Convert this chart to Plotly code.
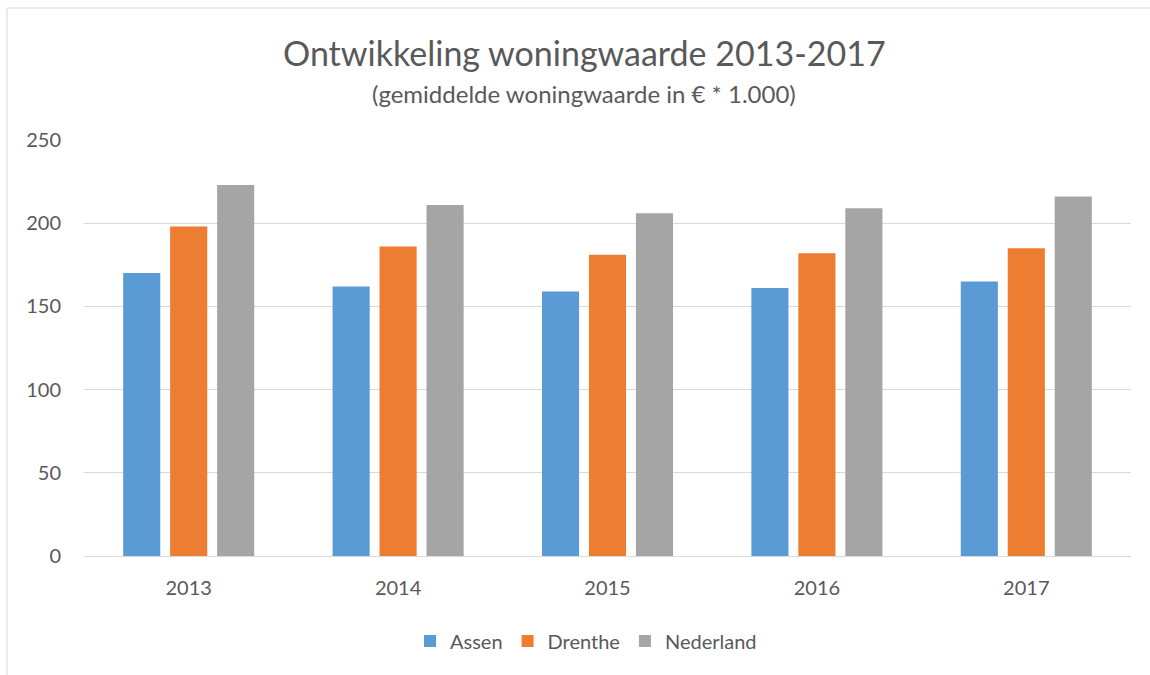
import plotly.graph_objects as go

years = ["2013", "2014", "2015", "2016", "2017"]
assen = [170, 162, 159, 161, 165]
drenthe = [198, 186, 181, 182, 185]
nederland = [223, 211, 206, 209, 216]
series_names = ["Assen", "Drenthe", "Nederland"]
colors = ["#5B9BD5", "#ED7D31", "#A5A5A5"]

FONT = "Lato, Open Sans, sans-serif"

fig = go.Figure()
for name, vals, col in zip(series_names, [assen, drenthe, nederland], colors):
    fig.add_trace(go.Bar(name=name, x=years, y=vals, marker=dict(color=col, line=dict(width=0))))

W, H = 1150, 675
L, R, T, B = 84, 19, 140, 119
pw = W - L - R
ph = H - T - B

fig.update_layout(
    width=W, height=H,
    margin=dict(l=L, r=R, t=T, b=B),
    paper_bgcolor="white", plot_bgcolor="white",
    barmode="group", bargap=0.327, bargroupgap=0.21,
    font=dict(family=FONT, color="#595959"),
    showlegend=True,
    legend=dict(orientation="h", x=(586 - L) / pw, xanchor="center", y=-(641 - (T + ph)) / ph, yanchor="middle",
                font=dict(size=20, color="#595959"), traceorder="normal", itemwidth=30),
    annotations=[
        dict(text="Ontwikkeling woningwaarde 2013-2017", x=(584 - L) / pw, xref="paper", y=1 + (T - 52) / ph, yref="paper",
             xanchor="center", yanchor="middle", showarrow=False, font=dict(size=34, color="#595959", family=FONT)),
        dict(text="(gemiddelde woningwaarde in € * 1.000)", x=(584 - L) / pw, xref="paper", y=1 + (T - 93) / ph, yref="paper",
             xanchor="center", yanchor="middle", showarrow=False, font=dict(size=24, color="#595959", family=FONT)),
    ],
    shapes=[
        dict(type="rect", xref="paper", yref="paper",
             x0=(7 - L) / pw, x1=(1170 - L) / pw, y0=-(700 - T - ph) / ph, y1=1 + (T - 8) / ph,
             line=dict(color="#D9D9D9", width=1), fillcolor="rgba(0,0,0,0)", layer="below"),
    ],
)
fig.update_xaxes(showgrid=False, showline=True, linecolor="#D9D9D9", linewidth=1,
                 tickfont=dict(size=20, color="#595959"), ticks="", ticklabelstandoff=14)
fig.update_yaxes(range=[0, 250], dtick=50, showgrid=True, gridcolor="#D9D9D9", gridwidth=1,
                 zeroline=False, showline=False, tickfont=dict(size=20, color="#595959"), ticks="",
                 ticklabelstandoff=22)

fig.write_html("out.html", config={"displayModeBar": False},
               post_script="document.body.style.margin='0';document.body.style.overflow='hidden';")
